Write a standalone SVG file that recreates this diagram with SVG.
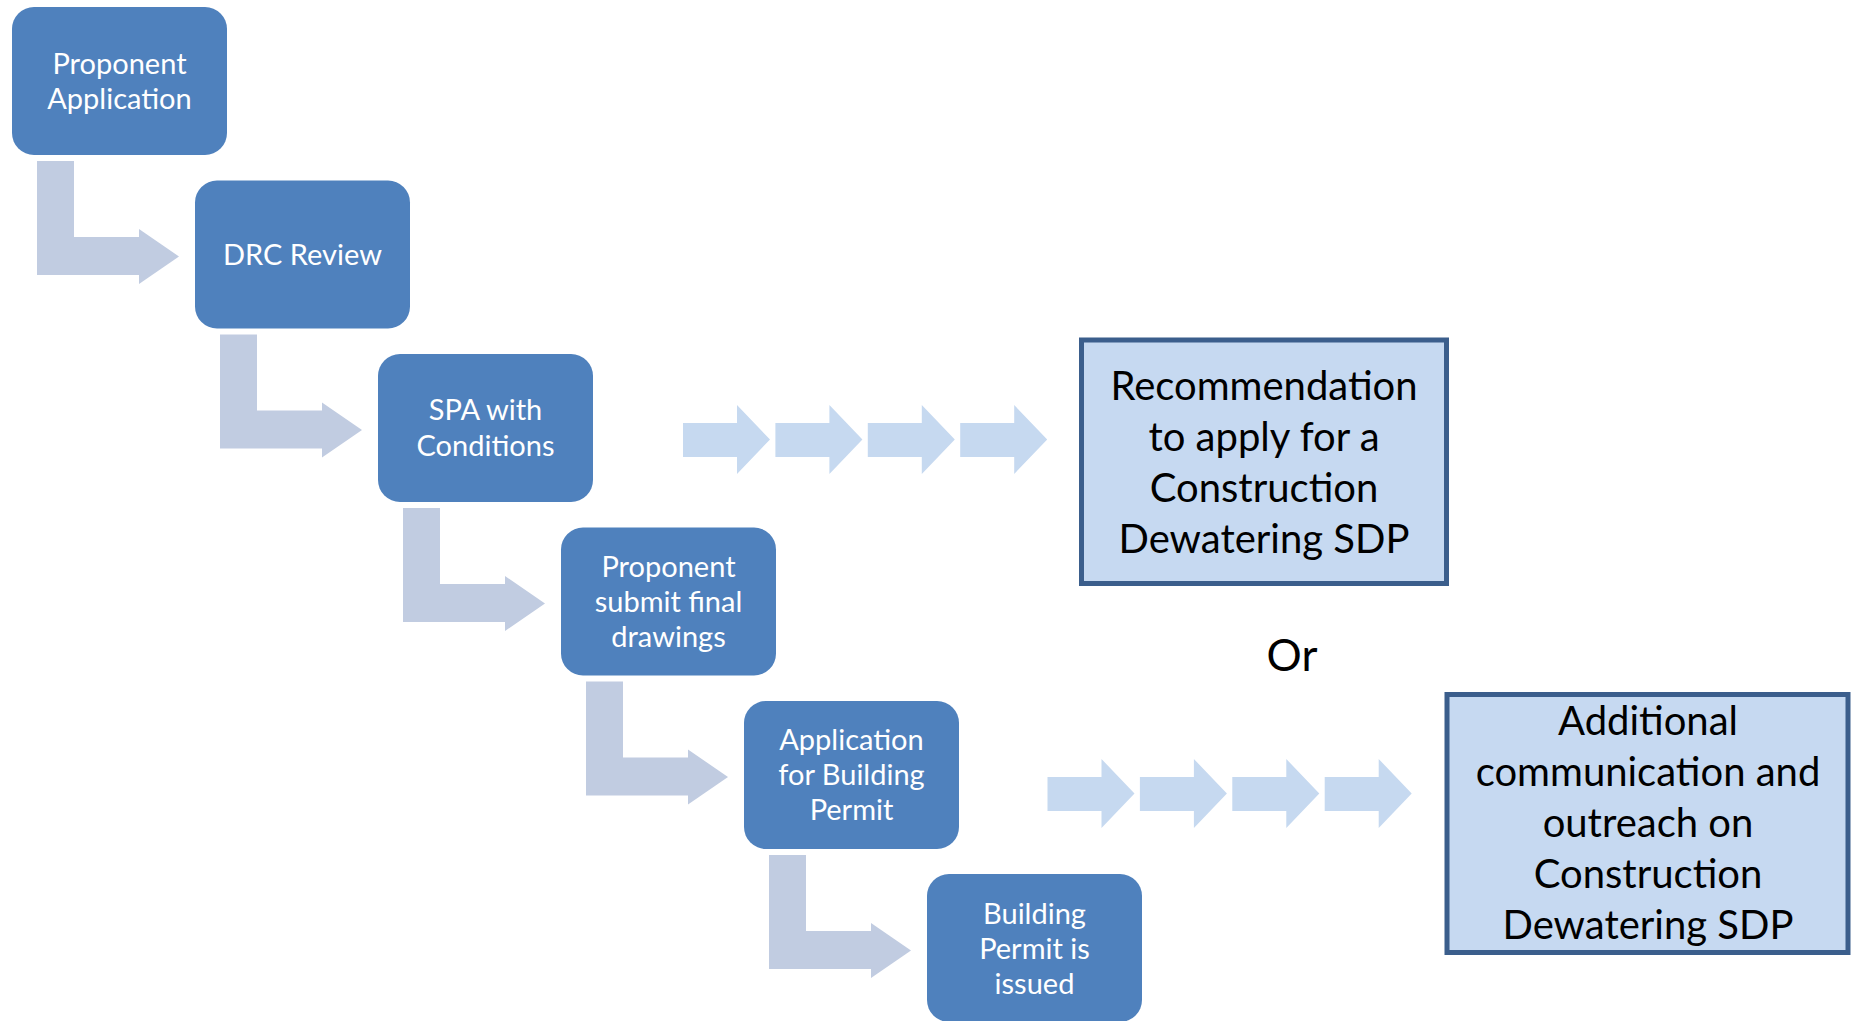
<svg xmlns="http://www.w3.org/2000/svg" xmlns:xlink="http://www.w3.org/1999/xlink" width="1856" height="1021" viewBox="0 0 1856 1021">
  <style>
    .node rect { fill: #4F81BD; }
    .node text { fill: #FFFFFF; font-family: Lato, "Liberation Sans", sans-serif; font-size: 29px; text-anchor: middle; }
    .bend { fill: #C1CCE1; }
    .chev { fill: #C6D9F0; }
    .box rect { fill: #C6D9F1; stroke: #3B5E8C; stroke-width: 5; }
    .box text, .or { fill: #000000; font-family: Lato, "Liberation Sans", sans-serif; font-size: 40px; text-anchor: middle; }
    .or { font-size: 44px; }
  </style>
  <defs>
    <polygon id="bendArrow" points="37,161 74,161 74,237 139,237 139,229 179,256.5 139,284 139,275 37,275"/>
    <polygon id="chevArrow" points="0,0 54,0 54,-18 87,16.5 54,51 54,34 0,34"/>
  </defs>
  <rect width="1856" height="1021" fill="#FFFFFF"/>

  <g id="connectors">
    <use xlink:href="#bendArrow" class="bend"/>
    <use xlink:href="#bendArrow" class="bend" transform="translate(183,173.5)"/>
    <use xlink:href="#bendArrow" class="bend" transform="translate(366,347)"/>
    <use xlink:href="#bendArrow" class="bend" transform="translate(549,520.5)"/>
    <use xlink:href="#bendArrow" class="bend" transform="translate(732,694)"/>
    <use xlink:href="#chevArrow" class="chev" transform="translate(683,423)"/>
    <use xlink:href="#chevArrow" class="chev" transform="translate(775.4,423)"/>
    <use xlink:href="#chevArrow" class="chev" transform="translate(867.8,423)"/>
    <use xlink:href="#chevArrow" class="chev" transform="translate(960.2,423)"/>
    <use xlink:href="#chevArrow" class="chev" transform="translate(1047.5,777)"/>
    <use xlink:href="#chevArrow" class="chev" transform="translate(1139.9,777)"/>
    <use xlink:href="#chevArrow" class="chev" transform="translate(1232.3,777)"/>
    <use xlink:href="#chevArrow" class="chev" transform="translate(1324.7,777)"/>
  </g>

  <g id="node-proponent-application" class="node">
    <rect x="12" y="7" width="215" height="148" rx="22"/>
    <text x="119.5" y="73.5">Proponent</text>
    <text x="119.5" y="108.5">Application</text>
  </g>
  <g id="node-drc-review" class="node">
    <rect x="195" y="180.5" width="215" height="148" rx="22"/>
    <text x="302.5" y="264.5">DRC Review</text>
  </g>
  <g id="node-spa-conditions" class="node">
    <rect x="378" y="354" width="215" height="148" rx="22"/>
    <text x="485.5" y="420">SPA with</text>
    <text x="485.5" y="455.5">Conditions</text>
  </g>
  <g id="node-final-drawings" class="node">
    <rect x="561" y="527.5" width="215" height="148" rx="22"/>
    <text x="668.5" y="576.5">Proponent</text>
    <text x="668.5" y="611.5">submit final</text>
    <text x="668.5" y="646.5">drawings</text>
  </g>
  <g id="node-building-permit-application" class="node">
    <rect x="744" y="701" width="215" height="148" rx="22"/>
    <text x="851.5" y="749.5">Application</text>
    <text x="851.5" y="784.5">for Building</text>
    <text x="851.5" y="819.5">Permit</text>
  </g>
  <g id="node-building-permit-issued" class="node">
    <rect x="927" y="874" width="215" height="148" rx="22"/>
    <text x="1034.5" y="923.5">Building</text>
    <text x="1034.5" y="958.5">Permit is</text>
    <text x="1034.5" y="993.5">issued</text>
  </g>

  <g id="node-recommendation" class="box">
    <rect x="1081.5" y="340" width="365" height="243.5"/>
    <text x="1264" y="400">Recommendation</text>
    <text x="1264" y="451">to apply for a</text>
    <text x="1264" y="502">Construction</text>
    <text x="1264" y="553">Dewatering SDP</text>
  </g>
  <g id="node-additional-outreach" class="box">
    <rect x="1447" y="694.5" width="401" height="258"/>
    <text x="1648" y="735">Additional</text>
    <text x="1648" y="786">communication and</text>
    <text x="1648" y="837">outreach on</text>
    <text x="1648" y="888">Construction</text>
    <text x="1648" y="939">Dewatering SDP</text>
  </g>

  <text id="label-or" class="or" x="1292" y="671">Or</text>
</svg>
